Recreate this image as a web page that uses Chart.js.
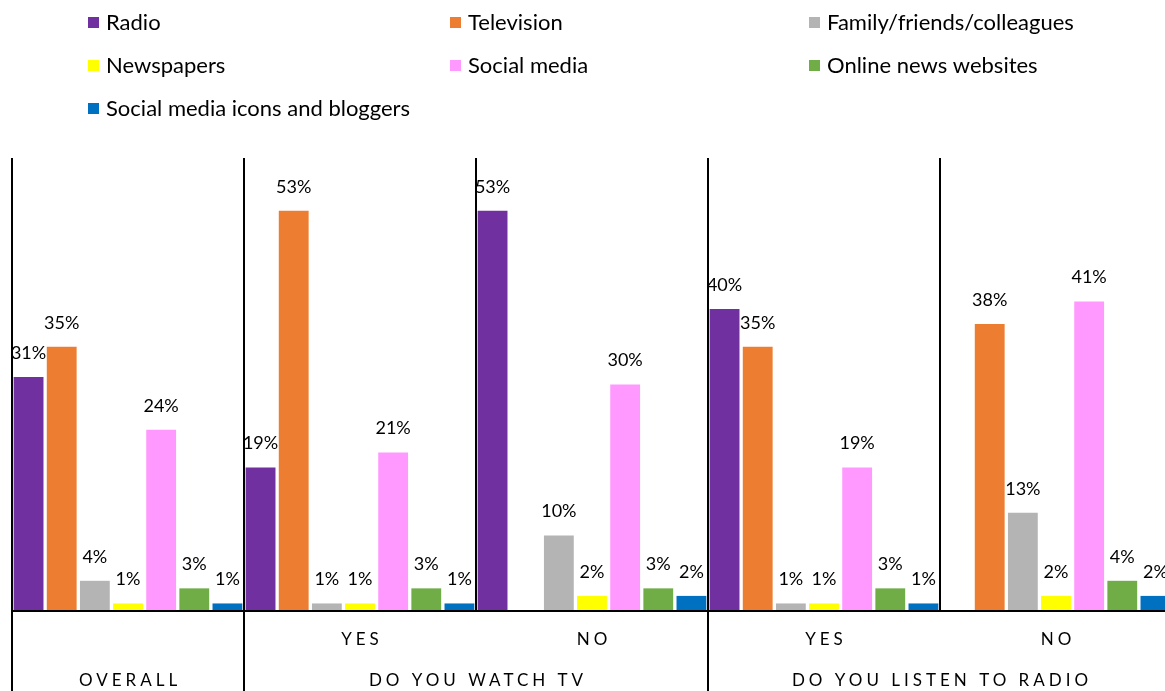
<!DOCTYPE html>
<html>
<head>
<meta charset="utf-8">
<script src="https://cdn.jsdelivr.net/npm/chart.js@4"></script>
<style>
  html, body { margin: 0; padding: 0; background: #fff; overflow: hidden; }
  canvas { display: block; }
</style>
</head>
<body>
<canvas id="myChart" width="1175" height="691"></canvas>
<script>
// categories (bottom row of the axis is the group)
var subLabels = ['', 'YES', 'NO', 'YES', 'NO'];
var groupLabels = ['OVERALL', 'DO YOU WATCH TV', 'DO YOU LISTEN TO RADIO'];
var groupSpans = [1, 2, 2];

var seriesNames = ['Radio', 'Television', 'Family/friends/colleagues', 'Newspapers', 'Social media', 'Online news websites', 'Social media icons and bloggers'];

var radio      = [31, 19, 53, 40, null];
var television = [35, 53, null, 35, 38];
var family     = [4, 1, 10, 1, 13];
var newspapers = [1, 1, 2, 1, 2];
var social     = [24, 21, 30, 19, 41];
var online     = [3, 3, 3, 3, 4];
var icons      = [1, 1, 2, 1, 2];

var colors = ['#7030A0', '#ED7D31', '#B4B4B4', '#FFFF00', '#FF99FF', '#70AD47', '#0070C0'];

var FONT = 'Lato, "Liberation Sans", sans-serif';

var dataset = [radio, television, family, newspapers, social, online, icons].map((vals, i) => {
  return {
    label: seriesNames[i],
    data: vals,
    backgroundColor: colors[i],
    borderWidth: 0,
    barPercentage: 0.9,
    categoryPercentage: 1.0
  }
});

// legend, value labels and the two-level axis are drawn by hand
var decor = {
  id: 'decor',
  afterDatasetsDraw(chart) {
    var ctx = chart.ctx;
    var area = chart.chartArea;
    var xs = chart.scales.x;
    var catW = area.width / subLabels.length;

    // value labels
    ctx.save();
    ctx.fillStyle = '#000';
    ctx.font = '18px ' + FONT;
    ctx.textAlign = 'center';
    ctx.textBaseline = 'middle';
    chart.data.datasets.forEach((ds, di) => {
      chart.getDatasetMeta(di).data.forEach((bar, i) => {
        if (ds.data[i] == null) return;
        ctx.fillText(ds.data[i] + '%', bar.x, bar.y - 24);
      });
    });
    ctx.restore();

    // axis lines
    ctx.save();
    ctx.strokeStyle = '#000';
    ctx.lineWidth = 2;
    ctx.beginPath();
    ctx.moveTo(area.left, area.bottom);
    ctx.lineTo(area.right, area.bottom);
    var idx = 0;
    groupSpans.forEach(span => {
      for (var k = 0; k < span; k++) {
        var x = Math.round(area.left + (idx + k) * catW);
        ctx.moveTo(x, area.top);
        ctx.lineTo(x, k === 0 ? chart.height : area.bottom);
      }
      idx += span;
    });
    ctx.stroke();

    // sub labels and group labels
    ctx.fillStyle = '#000';
    ctx.font = '17px ' + FONT;
    ctx.textBaseline = 'middle';
    ctx.textAlign = 'center';
    ctx.letterSpacing = '4px';
    subLabels.forEach((lab, i) => {
      if (lab) ctx.fillText(lab, xs.getPixelForValue(i) + 2, area.bottom + 29);
    });
    idx = 0;
    groupLabels.forEach((lab, g) => {
      var cx = area.left + (idx + groupSpans[g] / 2) * catW;
      ctx.fillText(lab, cx + 2, area.bottom + 70);
      idx += groupSpans[g];
    });
    ctx.restore();

    // legend in three columns
    ctx.save();
    ctx.font = '22px ' + FONT;
    ctx.textBaseline = 'middle';
    ctx.textAlign = 'left';
    var colX = [88, 450, 809];
    var rowY = [22, 65, 108];
    seriesNames.forEach((name, i) => {
      var x = colX[i % 3], y = rowY[Math.floor(i / 3)];
      ctx.fillStyle = colors[i];
      ctx.fillRect(x, y - 5, 11, 11);
      ctx.fillStyle = '#000';
      ctx.fillText(name, x + 18, y + 1);
    });
    ctx.restore();
  }
};

var ctx = document.getElementById('myChart').getContext('2d');
var myChart = new Chart(ctx, {
  type: 'bar',
  data: {
    labels: subLabels.map((l, i) => l || groupLabels[0]),
    datasets: dataset
  },
  options: {
    responsive: false,
    animation: false,
    layout: { padding: { top: 158, bottom: 80, left: 12, right: 3 } },
    plugins: {
      legend: { display: false },
      tooltip: { enabled: false }
    },
    scales: {
      x: { display: false },
      y: { display: false, min: 0, max: 60 }
    }
  },
  plugins: [decor]
});
</script>
</body>
</html>
